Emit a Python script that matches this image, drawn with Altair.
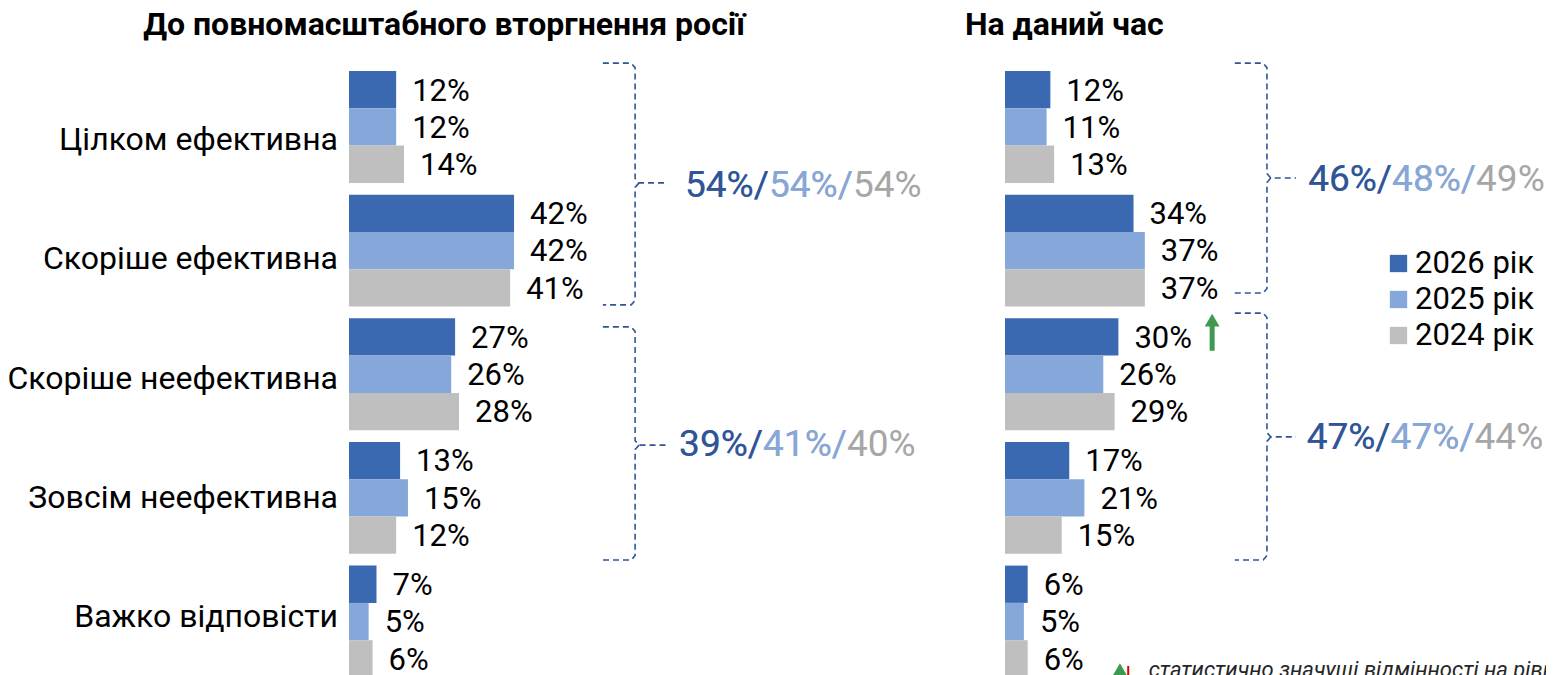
import altair as alt
import pandas as pd

# ---------------- data ----------------
categories = ["Цілком ефективна", "Скоріше ефективна", "Скоріше неефективна",
              "Зовсім неефективна", "Важко відповісти"]
years = ["2026 рік", "2025 рік", "2024 рік"]
colors = ["#3B69B1", "#86A7DA", "#BFBFBF"]
total_colors = ["#2F5597", "#86A7DA", "#A6A6A6"]

before_2026 = [12, 42, 27, 13, 7]
before_2025 = [12, 42, 26, 15, 5]
before_2024 = [14, 41, 28, 12, 6]

now_2026 = [12, 34, 30, 17, 6]
now_2025 = [11, 37, 26, 21, 5]
now_2024 = [13, 37, 29, 15, 6]

before_totals = [["54%", "54%", "54%"], ["39%", "41%", "40%"]]
now_totals = [["46%", "48%", "49%"], ["47%", "47%", "44%"]]

title_before = "До повномасштабного вторгнення росії"
title_now = "На даний час"
footnote = "статистично значущі відмінності на рівні"

# ---------------- layout constants ----------------
FONT = "Roboto"
PITCH = 3.315          # group pitch in bar units
LABEL_PITCH = 3.2      # category label pitch
LABEL_START = 1.85
BAR_PX = 37.3
HEIGHT = 667
Y_TOP = -63 / BAR_PX
Y_BOT = Y_TOP + HEIGHT / BAR_PX

LEFT_W, RIGHT_W = 940, 598
LEFT_PP, RIGHT_PP = 3.93, 3.78
LEFT_DOM = [-341 / LEFT_PP, -341 / LEFT_PP + LEFT_W / LEFT_PP]
RIGHT_DOM = [-57 / RIGHT_PP, -57 / RIGHT_PP + RIGHT_W / RIGHT_PP]

# brackets: (x_start, x_vertical, x_tip, top, mid, bottom) in data units
LEFT_BRACKETS = [(64.6, 72.8, 80.9, -0.21, 3.0, 6.27), (64.6, 72.8, 80.9, 6.86, 10.03, 13.11)]
LEFT_TOTAL_POS = [(85.5, 3.08), (84.0, 10.03)]
RIGHT_BRACKETS = [(60.8, 69.3, 77.0, -0.21, 2.87, 5.95), (60.8, 69.3, 77.0, 6.49, 9.81, 13.11)]
RIGHT_TOTAL_POS = [(80.2, 2.92), (79.8, 9.84)]


def bars_frame(series):
    rows = []
    for j, (yr, vals) in enumerate(zip(years, series)):
        for k, (cat, v) in enumerate(zip(categories, vals)):
            top = k * PITCH + j
            rows.append({"cat": cat, "year": yr, "value": v, "zero": 0,
                         "y0": top, "y1": top + 1, "yc": top + 0.55,
                         "label": f"{v}%"})
    return pd.DataFrame(rows)


def bracket_frame(brs):
    rows = []
    rx, ry = 1.0, 0.12
    for i, (xs, xv, xt, top, mid, bot) in enumerate(brs):
        a = [(xs, top), (xv - rx, top), (xv, top + ry), (xv, mid - ry), (xv + rx, mid), (xt, mid)]
        b = [(xv + rx, mid), (xv, mid + ry), (xv, bot - ry), (xv - rx, bot), (xs, bot)]
        for name, pts in (("a", a), ("b", b)):
            for o, (x, y) in enumerate(pts):
                rows.append({"seg": f"{i}{name}", "ord": o, "x": x, "y": y})
    return pd.DataFrame(rows)


def totals_layers(totals, pos, xs, ys, size):
    layers = []
    rows = []
    for (t, (x, y)) in zip(totals, pos):
        rows.append({"x": x, "y": y,
                     "full": "/".join(t),
                     "two": t[0] + "/" + t[1] + "/",
                     "one": t[0] + "/"})
    df = pd.DataFrame(rows)
    for field, col in (("full", total_colors[2]), ("two", total_colors[1]), ("one", total_colors[0])):
        layers.append(
            alt.Chart(df).mark_text(align="left", baseline="middle", font=FONT,
                                    fontSize=size, color=col, clip=True).encode(
                x=alt.X("x:Q", scale=xs, axis=None),
                y=alt.Y("y:Q", scale=ys, axis=None),
                text=f"{field}:N")
        )
    return layers


def panel(series, xdom, title, title_x, title_align, brackets, totals, total_pos,
          total_size, show_cats, legend):
    df = bars_frame(series)
    xs = alt.Scale(domain=xdom, nice=False, zero=False)
    ys = alt.Scale(domain=[Y_TOP, Y_BOT], reverse=True, nice=False, zero=False)
    base = alt.Chart(df)

    bars = base.mark_bar(clip=True).encode(
        x=alt.X("value:Q", scale=xs, axis=None),
        x2="zero",
        y=alt.Y("y0:Q", scale=ys, axis=None),
        y2="y1",
        color=alt.Color("year:N", scale=alt.Scale(domain=years, range=colors),
                        legend=legend),
    )
    labels = base.mark_text(align="left", baseline="middle", dx=16, font=FONT,
                            fontSize=31, color="#000000", clip=True).encode(
        x=alt.X("value:Q", scale=xs, axis=None),
        y=alt.Y("yc:Q", scale=ys, axis=None),
        text="label:N",
    )
    layers = [bars, labels]

    if show_cats:
        cdf = pd.DataFrame({"cat": categories,
                            "x": [0] * len(categories),
                            "y": [LABEL_START + k * LABEL_PITCH for k in range(len(categories))]})
        layers.append(
            alt.Chart(cdf).mark_text(align="right", baseline="middle", dx=-11, font=FONT,
                                     fontSize=32, color="#000000", clip=True).encode(
                x=alt.X("x:Q", scale=xs, axis=None),
                y=alt.Y("y:Q", scale=ys, axis=None),
                text="cat:N")
        )

    tdf = pd.DataFrame({"t": [title], "x": [title_x], "y": [-1.23]})
    layers.append(
        alt.Chart(tdf).mark_text(align=title_align, baseline="middle", font=FONT,
                                 fontSize=32, fontWeight="bold", color="#000000",
                                 clip=True).encode(
            x=alt.X("x:Q", scale=xs, axis=None),
            y=alt.Y("y:Q", scale=ys, axis=None),
            text="t:N")
    )

    bdf = bracket_frame(brackets)
    layers.append(
        alt.Chart(bdf).mark_line(color="#2F5597", strokeWidth=1.6, strokeDash=[6, 4],
                                 clip=True).encode(
            x=alt.X("x:Q", scale=xs, axis=None),
            y=alt.Y("y:Q", scale=ys, axis=None),
            detail="seg:N",
            order="ord:Q")
    )
    layers += totals_layers(totals, total_pos, xs, ys, total_size)
    return layers, xs, ys


left_layers, _, _ = panel([before_2026, before_2025, before_2024], LEFT_DOM,
                          title_before, 24.2, "center", LEFT_BRACKETS, before_totals,
                          LEFT_TOTAL_POS, 37, True, None)

legend = alt.Legend(title=None, orient="none", legendX=435, legendY=240,
                    symbolType="square", symbolSize=300, symbolStrokeWidth=0,
                    labelFont=FONT, labelFontSize=31, labelColor="#000000",
                    labelOffset=1, rowPadding=4, padding=0)
right_layers, rxs, rys = panel([now_2026, now_2025, now_2024], RIGHT_DOM,
                               title_now, -10.6, "left", RIGHT_BRACKETS, now_totals,
                               RIGHT_TOTAL_POS, 37, False, legend)

# green arrow (significant increase)
arrow_df = pd.DataFrame({"x": [54.8], "y": [7.5], "y2": [6.8], "yh": [6.68]})
right_layers.append(
    alt.Chart(arrow_df).mark_rule(color="#3D9A50", strokeWidth=5).encode(
        x=alt.X("x:Q", scale=rxs, axis=None),
        y=alt.Y("y:Q", scale=rys, axis=None), y2="y2")
)
right_layers.append(
    alt.Chart(arrow_df).mark_point(shape="triangle-up", filled=True, color="#3D9A50",
                                   size=220, opacity=1).encode(
        x=alt.X("x:Q", scale=rxs, axis=None),
        y=alt.Y("yh:Q", scale=rys, axis=None))
)

# footnote at bottom (cut off in original)
fn_df = pd.DataFrame({"x": [30.4], "y": [16.05], "xr": [32.6], "yr1": [15.95], "yr2": [16.4],
                      "xt": [38.0], "yt": [15.8], "t": [footnote]})
right_layers.append(
    alt.Chart(fn_df).mark_point(shape="triangle-up", filled=True, color="#3D9A50",
                                size=220, opacity=1, clip=True).encode(
        x=alt.X("x:Q", scale=rxs, axis=None),
        y=alt.Y("y:Q", scale=rys, axis=None))
)
right_layers.append(
    alt.Chart(fn_df).mark_rule(color="#E00000", strokeWidth=2, clip=True).encode(
        x=alt.X("xr:Q", scale=rxs, axis=None),
        y=alt.Y("yr1:Q", scale=rys, axis=None), y2="yr2")
)
right_layers.append(
    alt.Chart(fn_df).mark_text(align="left", baseline="top", font=FONT, fontSize=22,
                               fontStyle="italic", color="#262626", clip=True).encode(
        x=alt.X("xt:Q", scale=rxs, axis=None),
        y=alt.Y("yt:Q", scale=rys, axis=None),
        text="t:N")
)

left = alt.layer(*left_layers).properties(width=LEFT_W, height=HEIGHT)
right = alt.layer(*right_layers).properties(width=RIGHT_W, height=HEIGHT)

chart = (
    alt.hconcat(left, right, spacing=0)
    .resolve_scale(color="independent")
    .resolve_legend(color="independent")
    .properties(padding=0, background="white")
    .configure_view(stroke=None, strokeWidth=0)
)

chart.save("out.html", embed_options={"renderer": "svg", "actions": False})
